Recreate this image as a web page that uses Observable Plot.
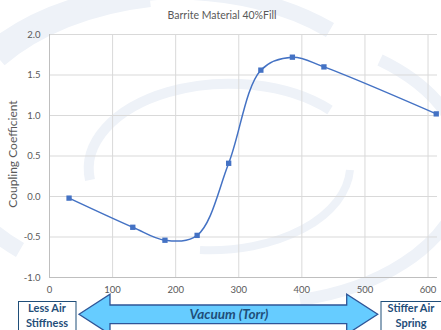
<!DOCTYPE html>
<html><head><meta charset="utf-8">
<script src="https://cdn.jsdelivr.net/npm/d3@7"></script>
<script src="https://cdn.jsdelivr.net/npm/@observablehq/plot@0.6"></script>
<style>
html,body{margin:0;padding:0;background:#fff;}
#wrap{position:relative;width:441px;height:330px;overflow:hidden;font-family:Lato,"Open Sans",sans-serif;}
#wrap > svg{position:absolute;left:0;top:0;}
#plot{position:absolute;left:0;top:0;}
</style>
</head><body>
<div id="wrap">
<svg id="bg" width="441" height="330">
  <g fill="none" stroke="#eef2f8">
    <path d="M20,250 A210,135 0 0 1 330,30" stroke-width="16"/>
    <path d="M380,60 A210,135 0 0 1 300,300" stroke-width="12"/>
    <path d="M90,180 A140,85 0 0 1 330,110" stroke-width="10"/>
    <path d="M350,170 A140,85 0 0 1 200,250" stroke-width="8"/>
    <path d="M0,60 A240,160 0 0 1 150,0" stroke-width="14"/>
  </g>
</svg>
<div id="plot"></div>
<svg id="ov" width="441" height="330">
  <text x="222" y="19" text-anchor="middle" font-size="10.5" fill="#595959">Barrite Material 40%Fill</text>
  <text transform="translate(17,154) rotate(-90)" text-anchor="middle" font-size="12" fill="#595959">Coupling Coefficient</text>
  <path d="M79,314.3 L110,294.3 L110,305 L346.7,305 L346.7,294.3 L377.7,314.3 L346.7,334.3 L346.7,323.6 L110,323.6 L110,334.3 Z" fill="#66ccff" stroke="#2f5597" stroke-width="1.3"/>
  <text x="229" y="319" text-anchor="middle" font-size="13.5" font-weight="bold" font-style="italic" fill="#1f4e79">Vacuum (Torr)</text>
  <rect x="18.5" y="301.5" width="57.5" height="32" fill="#fff" stroke="#1f4e79" stroke-width="1"/>
  <text x="47" y="311.5" text-anchor="middle" font-size="11" font-weight="bold" fill="#1f4e79">Less Air</text>
  <text x="47" y="326.5" text-anchor="middle" font-size="11" font-weight="bold" fill="#1f4e79">Stiffness</text>
  <rect x="381" y="301.5" width="62" height="32" fill="#fff" stroke="#1f4e79" stroke-width="1"/>
  <text x="411" y="311.5" text-anchor="middle" font-size="11" font-weight="bold" fill="#1f4e79">Stiffer Air</text>
  <text x="411" y="326.5" text-anchor="middle" font-size="11" font-weight="bold" fill="#1f4e79">Spring</text>
</svg>
</div>
<script>
const vacuum = [31, 132, 183, 234, 284, 335, 385, 435, 613];
const coupling = [-0.02, -0.38, -0.54, -0.48, 0.41, 1.56, 1.72, 1.60, 1.02];
const xTicks = [0, 100, 200, 300, 400, 500, 600];
const yTicks = [-1.0, -0.5, 0.0, 0.5, 1.0, 1.5, 2.0];

const data = vacuum.map((v, i) => ({x: v, y: coupling[i]}));

const chart = Plot.plot({
  width: 441,
  height: 300,
  marginLeft: 49,
  marginRight: 4,
  marginTop: 34,
  marginBottom: 23,
  x: {domain: [0, 615]},
  y: {domain: [-1, 2]},
  style: {fontFamily: "Lato, 'Open Sans', sans-serif", fontSize: "9.5px", color: "#595959", background: "transparent", overflow: "visible"},
  marks: [
    Plot.gridX(xTicks, {stroke: "#d9d9d9", strokeOpacity: 1}),
    Plot.gridY(yTicks, {stroke: "#d9d9d9", strokeOpacity: 1}),
    Plot.ruleX([0], {stroke: "#bfbfbf"}),
    Plot.ruleY([-1], {stroke: "#bfbfbf"}),
    Plot.axisX(xTicks, {tickSize: 0, tickPadding: 9, label: null, tickFormat: d => String(d), fill: "#595959"}),
    Plot.axisY(yTicks, {tickSize: 0, tickPadding: 9, label: null, tickFormat: d => d.toFixed(1), fill: "#595959"}),
    Plot.line(data, {x: "x", y: "y", curve: "catmull-rom", stroke: "#4472c4", strokeWidth: 1.5}),
    Plot.dot(data, {x: "x", y: "y", symbol: "square", r: 3, fill: "#4472c4", stroke: "none"})
  ]
});
document.getElementById("plot").appendChild(chart);
</script>
</body></html>
